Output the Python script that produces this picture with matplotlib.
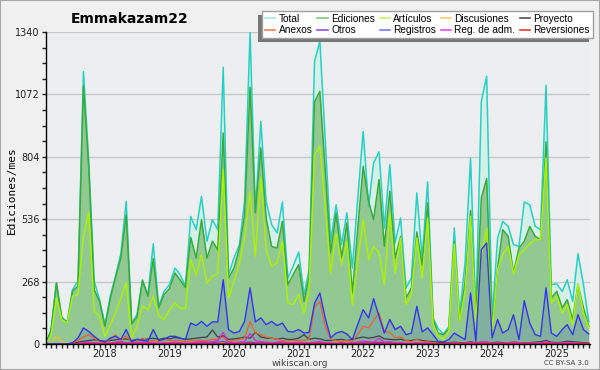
import numpy as np
import pandas as pd
import matplotlib
matplotlib.use('Agg')
from matplotlib import pyplot as plt
from matplotlib import dates as mdates
from matplotlib.lines import Line2D
from matplotlib.patches import Rectangle
from matplotlib.ticker import MultipleLocator, FixedLocator

# Datos mensuales (feb 2017 - jul 2025)
meses = pd.date_range('2017-02-01', periods=102, freq='MS')

total = [5, 60, 262, 115, 95, 233, 270, 1170, 785, 270,
         190, 83, 210, 290, 390, 613, 90, 126, 276, 210,
         430, 162, 226, 255, 326, 300, 248, 548, 491, 634,
         441, 534, 491, 1188, 298, 369, 427, 613, 1340, 570,
         956, 613, 513, 477, 610, 283, 334, 395, 212, 320,
         1214, 1300, 870, 441, 598, 427, 563, 326, 620, 913,
         591, 777, 825, 498, 770, 434, 541, 240, 283, 649,
         369, 696, 112, 67, 43, 74, 498, 126, 350, 799,
         126, 1042, 1150, 110, 455, 527, 505, 427, 419, 610,
         598, 505, 491, 1111, 255, 258, 226, 276, 183, 388,
         255, 97]

ediciones = [5, 55, 262, 112, 90, 226, 248, 1107, 756, 233,
             183, 76, 198, 283, 369, 555, 86, 115, 272, 205,
             366, 155, 212, 238, 305, 276, 243, 458, 369, 534,
             369, 441, 405, 906, 283, 326, 412, 555, 1102, 563,
             842, 541, 419, 412, 527, 255, 298, 341, 183, 290,
             1040, 1085, 740, 391, 563, 369, 520, 219, 491, 763,
             613, 534, 706, 420, 656, 369, 462, 198, 240, 481,
             338, 606, 105, 47, 40, 65, 441, 97, 269, 573,
             112, 627, 710, 69, 326, 491, 462, 305, 412, 441,
             505, 462, 448, 868, 198, 226, 155, 190, 105, 255,
             155, 76]

articulos = [5, 33, 198, 105, 90, 205, 212, 462, 563, 140,
             119, 33, 83, 133, 198, 262, 26, 76, 162, 147,
             205, 123, 105, 147, 176, 155, 152, 362, 295, 384,
             262, 291, 301, 749, 198, 269, 348, 455, 656, 377,
             713, 405, 334, 348, 441, 176, 169, 212, 133, 230,
             812, 850, 577, 305, 477, 341, 441, 169, 355, 534,
             362, 420, 391, 255, 563, 305, 455, 169, 212, 455,
             283, 541, 83, 37, 19, 54, 430, 97, 226, 548,
             97, 384, 498, 54, 320, 384, 419, 300, 384, 405,
             430, 448, 448, 799, 176, 205, 133, 169, 83, 258,
             133, 69]

registros = [0, 0, 0, 0, 0, 5, 26, 69, 54, 33,
             15, 8, 26, 33, 20, 62, 8, 20, 15, 12,
             62, 15, 20, 33, 33, 26, 19, 90, 79, 97,
             76, 95, 95, 276, 62, 47, 54, 97, 241, 95,
             112, 83, 97, 79, 90, 54, 52, 62, 47, 50,
             175, 219, 110, 26, 47, 54, 43, 19, 83, 147,
             112, 195, 119, 47, 105, 62, 76, 40, 47, 162,
             52, 69, 40, 11, 9, 19, 47, 33, 19, 219,
             11, 405, 434, 26, 105, 47, 62, 126, 19, 186,
             90, 40, 33, 241, 47, 33, 62, 83, 40, 126,
             62, 43]

anexos = [0, 0, 0, 0, 0, 5, 15, 30, 40, 25,
          10, 5, 20, 40, 15, 35, 5, 10, 25, 10,
          15, 10, 20, 15, 15, 15, 10, 15, 15, 15,
          15, 20, 20, 30, 10, 15, 20, 25, 97, 47,
          40, 30, 25, 20, 15, 15, 15, 15, 15, 20,
          160, 182, 74, 20, 15, 10, 15, 10, 40, 76,
          69, 100, 133, 54, 50, 26, 30, 15, 10, 20,
          10, 10, 5, 2, 2, 2, 5, 3, 3, 5,
          3, 5, 5, 3, 3, 3, 5, 3, 3, 3,
          3, 3, 3, 8, 3, 3, 3, 3, 3, 3,
          3, 3]

proyecto = [0, 0, 0, 0, 0, 2, 8, 12, 15, 18,
            15, 12, 15, 18, 20, 22, 15, 20, 18, 22,
            25, 20, 25, 22, 28, 25, 20, 22, 25, 28,
            30, 60, 30, 35, 20, 22, 25, 30, 25, 50,
            30, 25, 25, 20, 25, 20, 20, 25, 40, 20,
            25, 22, 15, 15, 18, 20, 15, 20, 25, 30,
            25, 28, 35, 22, 20, 18, 20, 15, 15, 20,
            15, 12, 10, 8, 6, 5, 8, 6, 5, 10,
            5, 8, 6, 5, 8, 6, 5, 8, 6, 5,
            6, 8, 10, 15, 8, 6, 8, 12, 10, 8,
            6, 5]

reg_adm = [0, 0, 0, 0, 0, 0, 2, 5, 8, 5,
           3, 2, 5, 8, 10, 5, 3, 5, 8, 5,
           5, 3, 5, 5, 8, 5, 3, 5, 8, 10,
           8, 10, 15, 50, 8, 5, 8, 10, 45, 15,
           10, 8, 5, 8, 10, 5, 5, 8, 5, 5,
           8, 10, 5, 5, 3, 5, 3, 5, 8, 12,
           10, 8, 25, 8, 10, 5, 5, 3, 3, 5,
           3, 5, 2, 2, 2, 3, 5, 3, 3, 8,
           3, 8, 10, 3, 5, 3, 5, 8, 5, 3,
           5, 3, 5, 10, 5, 3, 5, 8, 5, 3,
           3, 2]

otros = [0, 0, 0, 0, 0, 0, 2, 3, 5, 3,
         2, 2, 3, 5, 8, 5, 2, 3, 5, 3,
         3, 2, 3, 3, 5, 3, 2, 3, 5, 5,
         5, 5, 8, 10, 5, 3, 5, 5, 8, 5,
         5, 5, 3, 5, 5, 3, 3, 5, 3, 3,
         5, 5, 3, 3, 2, 3, 2, 3, 5, 5,
         5, 5, 8, 5, 5, 3, 3, 2, 2, 3,
         2, 3, 2, 1, 1, 2, 3, 2, 2, 3,
         2, 3, 3, 2, 3, 2, 3, 3, 2, 2,
         3, 2, 3, 5, 3, 2, 3, 3, 2, 2,
         2, 1]

discusiones = [0, 0, 35, 10, 0, 0, 2, 3, 2, 1,
               0, 0, 2, 3, 2, 3, 0, 1, 2, 1,
               1, 1, 2, 2, 3, 2, 1, 2, 3, 2,
               2, 3, 3, 5, 2, 2, 2, 3, 5, 3,
               3, 2, 2, 2, 3, 2, 2, 2, 2, 2,
               3, 3, 2, 2, 2, 2, 2, 2, 3, 5,
               3, 3, 5, 2, 2, 2, 2, 1, 1, 2,
               1, 1, 1, 0, 0, 0, 1, 1, 1, 2,
               1, 2, 2, 1, 2, 1, 2, 2, 1, 1,
               1, 1, 1, 3, 1, 1, 1, 2, 1, 1,
               1, 0]

reversiones = [0, 0, 0, 0, 0, 0, 0, 1, 2, 1,
               0, 0, 1, 2, 1, 1, 0, 0, 1, 0,
               1, 0, 1, 1, 1, 1, 0, 1, 1, 1,
               1, 1, 1, 2, 1, 1, 1, 1, 3, 1,
               1, 1, 1, 1, 1, 1, 1, 1, 1, 1,
               2, 2, 1, 1, 1, 1, 1, 1, 1, 2,
               1, 2, 2, 1, 1, 1, 1, 0, 0, 1,
               0, 0, 0, 0, 0, 0, 0, 0, 0, 1,
               0, 1, 1, 0, 1, 0, 1, 1, 0, 0,
               1, 0, 0, 2, 0, 0, 0, 1, 0, 0,
               0, 0]

y_ticks = [0, 268, 536, 804, 1072, 1340]

W, H = 600, 370
fig = plt.figure(figsize=(W / 100, H / 100), dpi=100, facecolor='#f0f0f0')
ax = fig.add_axes([46 / W, 26 / H, 544 / W, 312 / H])
ax.set_facecolor('#eceef0')

# Areas y lineas principales
ax.fill_between(meses, total, color='#d4f0e8', lw=0)
ax.plot(meses, total, color='#28d0c4', lw=1.1)
ax.fill_between(meses, ediciones, color='#92c892', lw=0)
ax.plot(meses, ediciones, color='#3aaa3a', lw=1.1)
ax.plot(meses, articulos, color='#aaf000', lw=1.1)
ax.fill_between(meses, registros, color='#4050d0', alpha=0.2, lw=0)

# Series pequeñas
ax.plot(meses, discusiones, color='#f0c020', lw=0.9)
ax.plot(meses, otros, color='#8a2be2', lw=0.9)
ax.plot(meses, proyecto, color='#404040', lw=0.9)
ax.plot(meses, anexos, color='#f06030', lw=0.9)
ax.plot(meses, reg_adm, color='#e020e0', lw=0.9)
ax.plot(meses, reversiones, color='#e02020', lw=0.9)
ax.plot(meses, registros, color='#3535f0', lw=1.0)

ax.set_ylim(0, 1340)
ax.set_xlim(meses[0], pd.Timestamp('2025-07-08'))
ax.yaxis.set_major_locator(FixedLocator(y_ticks))
ax.yaxis.set_minor_locator(MultipleLocator(67))
ax.xaxis.set_major_locator(mdates.YearLocator())
ax.xaxis.set_major_formatter(mdates.DateFormatter('%Y'))
ax.xaxis.set_minor_locator(mdates.MonthLocator())
ax.grid(axis='y', which='major', color='#c8c8c8', lw=1)
ax.set_axisbelow(True)
ax.tick_params(axis='both', which='both', direction='out', length=3, width=1,
               labelsize=7, colors='#222222')
ax.tick_params(axis='x', which='major', pad=0.5)
ax.tick_params(axis='y', which='major', pad=1.5)
for s in ['top', 'right']:
    ax.spines[s].set_visible(False)
for s in ['left', 'bottom']:
    ax.spines[s].set_linewidth(1)

fig.text(130 / W, 1 - 19 / H, 'Emmakazam22', weight='bold', fontsize=10,
         ha='center', va='center')
fig.text(12 / W, 1 - 190 / H, 'Ediciones/mes', rotation=90, fontsize=8,
         family='DejaVu Sans Mono', ha='center', va='center')
fig.text(300 / W, 1 - 363 / H, 'wikiscan.org', fontsize=6.5, color='#444444',
         ha='center', va='center')
fig.text(589 / W, 1 - 363 / H, 'CC BY-SA 3.0', fontsize=5, color='#444444',
         ha='right', va='center')

# Leyenda
etiquetas = ['Total', 'Anexos', 'Ediciones', 'Otros', 'Artículos', 'Registros',
             'Discusiones', 'Reg. de adm.', 'Proyecto', 'Reversiones']
colores = ['#a8e8e0', '#f08050', '#78c878', '#9050e0', '#c8f070', '#7878f8',
           '#f8d070', '#e050e8', '#505050', '#e83838']
handles = [Line2D([], [], color=c, lw=1.2) for c in colores]
leg = fig.legend(handles, etiquetas, ncol=5, loc='upper right',
                 bbox_to_anchor=(593 / W, 1 - 11 / H),
                 prop={'family': 'Liberation Sans', 'size': 7.3},
                 fancybox=False, edgecolor='#a0a0a0', framealpha=1,
                 handlelength=1.0, handletextpad=0.35, columnspacing=0.45,
                 borderpad=0.3, labelspacing=0.12, borderaxespad=0)
leg.get_frame().set_linewidth(1)
leg.set_zorder(5)

fig.canvas.draw()
bb = leg.get_window_extent()
sombra = Rectangle((bb.x0 - 4, bb.y0 - 4), bb.width, bb.height,
                   transform=None, facecolor='#777777', edgecolor='none', zorder=4)
fig.patches.append(sombra)
fig.patches.append(Rectangle((0, 0), 1, 1, transform=fig.transFigure, fill=False,
                             edgecolor='#a8a8a8', lw=1.5, zorder=10))

fig.savefig('out.png', dpi=100, facecolor=fig.get_facecolor())
